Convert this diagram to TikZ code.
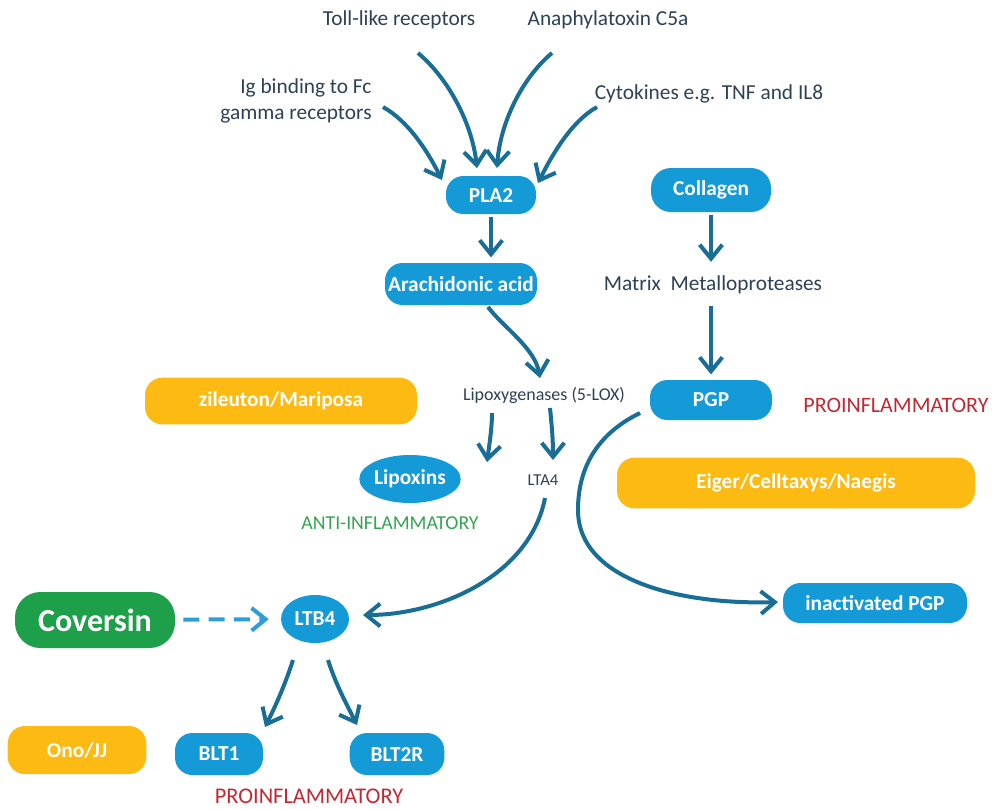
\documentclass[tikz,border=0pt]{standalone}
\usepackage{fontspec}
\setmainfont{Carlito}
\usepackage{tikz}
\usetikzlibrary{arrows.meta,shapes.geometric}
\definecolor{nodeblue}{RGB}{20,155,215}
\definecolor{flowblue}{RGB}{25,110,150}
\definecolor{dashblue}{RGB}{45,158,215}
\definecolor{drugyellow}{RGB}{252,186,18}
\definecolor{covgreen}{RGB}{30,160,75}
\definecolor{labelgrey}{RGB}{45,65,85}
\definecolor{prored}{RGB}{195,40,50}
\definecolor{antigreen}{RGB}{50,165,80}
\tikzset{%
  barbA/.tip={Straight Barb[length=10.5pt,width=17pt]},
  enzbox/.style={rectangle, rounded corners=13pt, fill=nodeblue, text=white,
    font=\bfseries\fontsize{16}{18}\selectfont, inner sep=0pt},
  enzoval/.style={ellipse, fill=nodeblue, text=white,
    font=\bfseries\fontsize{16}{18}\selectfont, inner sep=0pt},
  drugbox/.style={rectangle, rounded corners=13pt, fill=drugyellow, text=white,
    font=\bfseries\fontsize{16}{18}\selectfont, inner sep=0pt},
  lbl/.style={text=labelgrey, font=\fontsize{16}{19}\selectfont},
  smalllbl/.style={text=labelgrey, font=\fontsize{13.5}{15}\selectfont},
  flow/.style={draw=flowblue, line width=3pt, -barbA},
}

\begin{document}
\begin{tikzpicture}[x=0.75pt,y=-0.75pt]
\useasboundingbox (0,0) rectangle (992,808);
% stimuli
\node[lbl] (toll) at (399,20) {Toll-like receptors};
\node[lbl] (anaph) at (608,20) {Anaphylatoxin C5a};
\node[lbl, align=right] (igfc) at (296,101) {Ig binding to Fc\\gamma receptors};
\node[lbl] (cyto) at (709,94) {Cytokines e.g. TNF and IL8};
% main nodes
\node[enzbox, minimum width=67.5pt, minimum height=28.5pt] (pla2) at (491,195) {PLA2};
\node[enzbox, minimum width=90pt, minimum height=33pt, rounded corners=15pt] (collagen) at (711,190) {Collagen};
\node[enzbox, minimum width=114pt, minimum height=31.5pt] (arach) at (461,284) {Arachidonic acid};
\node[lbl] (mmp) at (713,285) {Matrix~~Metalloproteases};
\node[drugbox, minimum width=204pt, minimum height=35pt] (zileuton) at (281,401) {zileuton/Mariposa};
\node[smalllbl] (lox) at (544,395) {Lipoxygenases (5-LOX)};
\node[enzbox, minimum width=91.5pt, minimum height=30pt] (pgp) at (711,400) {PGP};
\node[text=prored, font=\fontsize{16.5}{19}\selectfont] (proA) at (896,405) {PROINFLAMMATORY};
\node[enzoval, minimum width=67.5pt, minimum height=36pt] (lipoxins) at (410,479) {Lipoxins};
\node[text=labelgrey, font=\fontsize{12.5}{14}\selectfont] (lta4) at (543,480) {LTA4};
\node[drugbox, minimum width=268.5pt, minimum height=38pt] (eiger) at (796,483) {Eiger/Celltaxys/Naegis};
\node[text=antigreen, font=\fontsize{14.8}{17}\selectfont] (antiA) at (390,523) {ANTI-INFLAMMATORY};
\node[rectangle, rounded corners=19pt, fill=covgreen, text=white, font=\bfseries\fontsize{24}{28}\selectfont,
  minimum width=120pt, minimum height=42pt, inner sep=0pt] (coversin) at (95,620) {Coversin};
\node[enzoval, minimum width=51pt, minimum height=36pt] (ltb4) at (315,619) {LTB4};
\node[enzbox, minimum width=138pt, minimum height=30pt] (inact) at (875,603) {inactivated PGP};
\node[drugbox, minimum width=104pt, minimum height=36pt] (ono) at (77,750) {Ono/JJ};
\node[enzbox, minimum width=66pt, minimum height=31.5pt] (blt1) at (219,754) {BLT1};
\node[enzbox, minimum width=71pt, minimum height=31.5pt] (blt2r) at (397,754) {BLT2R};
\node[text=prored, font=\fontsize{16.8}{19}\selectfont, inner sep=0pt] (proB) at (309,796) {PROINFLAMMATORY};
% connectors
\draw[flow] ([shift={(19,33)}]toll.center) .. controls +(30,25) and +(-5,-45) .. ([shift={(-14,-27)}]pla2.center);
\draw[flow] ([shift={(-56,33)}]anaph.center) .. controls +(-30,25) and +(3,-45) .. ([shift={(6,-27)}]pla2.center);
\draw[flow] ([shift={(87,6)}]igfc.center) .. controls +(25,14) and +(-15,-30) .. ([shift={(-49,-15)}]pla2.center);
\draw[flow] ([shift={(-112,13)}]cyto.center) .. controls +(-25,14) and +(15,-30) .. ([shift={(47,-12)}]pla2.center);
\draw[flow, shorten <=2pt, shorten >=4pt] (pla2.south) -- (pla2.south |- arach.north);
\draw[flow, shorten <=2pt, shorten >=7pt] (collagen.south) -- (collagen.south |- mmp.north);
\draw[flow, shorten <=5pt, shorten >=4pt] (pgp.north |- mmp.south) -- (pgp.north);
\draw[flow] ([shift={(27,23)}]arach.center) .. controls +(15,20) and +(-5,-30) .. ([shift={(-4,-17)}]lox.center);
\draw[flow] ([shift={(-52,18)}]lox.center) .. controls +(0,15) and +(2,-15) .. ([shift={(77,-17)}]lipoxins.center);
\draw[flow] ([shift={(6,13)}]lox.center) .. controls +(2,20) and +(0,-20) .. ([shift={(10,-20)}]lta4.center);
\draw[flow] ([shift={(2,18)}]lta4.center) .. controls +(-15,77) and +(77,0) .. ([shift={(48,-4)}]ltb4.center);
\draw[flow] ([shift={(-71,13)}]pgp.center) .. controls +(-45,22) and +(0,-40) .. ++(-62,97)
  .. controls +(0,70) and +(-98,3) .. ([shift={(-97,-1)}]inact.center);
\draw[draw=dashblue, line width=3pt, dash pattern=on 12pt off 7pt, -barbA, shorten <=6pt, shorten >=9pt] (coversin) -- (ltb4);
\draw[flow] ([shift={(-22,41)}]ltb4.center) .. controls +(-8,25) and +(10,-20) .. ([shift={(46,-27)}]blt1.center);
\draw[flow] ([shift={(13,41)}]ltb4.center) .. controls +(8,25) and +(-10,-20) .. ([shift={(-40,-29)}]blt2r.center);
\end{tikzpicture}
\end{document}
